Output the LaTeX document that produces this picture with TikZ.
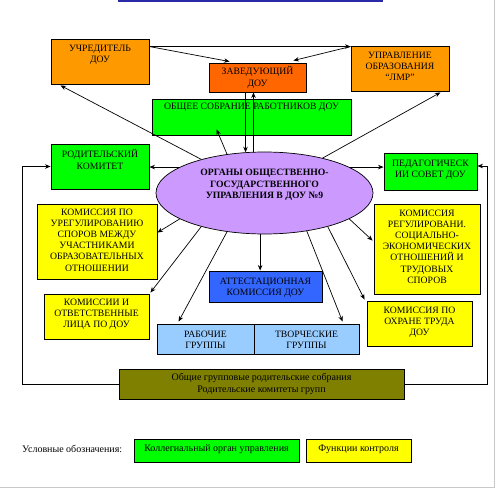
\documentclass[tikz,border=0pt]{standalone}
\usepackage{fontspec}
\setmainfont{Liberation Serif}
\usetikzlibrary{shapes.geometric,arrows.meta,calc}
\definecolor{orng}{HTML}{FF9900}
\definecolor{redorng}{HTML}{FF6600}
\definecolor{grn}{HTML}{00FF00}
\definecolor{ylw}{HTML}{FFFF00}
\definecolor{lav}{HTML}{CC99FF}
\definecolor{attblue}{HTML}{3366FF}
\definecolor{ltblue}{HTML}{99CCFF}
\definecolor{olv}{HTML}{808000}
\definecolor{topblue}{HTML}{2A2AA8}
\definecolor{frame}{HTML}{C8C8C8}
\begin{document}
\begin{tikzpicture}[x=1pt,y=-1pt,
  box/.style={draw=black, line width=0.9pt, inner sep=0pt, minimum width=#1},
  box/.default=100pt,
  txt/.style={anchor=north, align=center, inner sep=0pt, font=\fontsize{9.7}{11.2}\selectfont},
  ctxt/.style={align=center, inner sep=0pt, font=\fontsize{10}{11.2}\selectfont},
  arr/.style={draw=black, line width=0.7pt, -{Stealth[length=5.5pt,width=4.5pt]}}]
\useasboundingbox (0,0) rectangle (495,489);
\fill[white] (0,0) rectangle (495,489);
% top strip and frame
\fill[topblue] (118,-1) rectangle (383,1.6);
\draw[frame, line width=1pt] (494,0) -- (494,487) -- (0,487);

% boxes
\node[box=98pt,  minimum height=45pt, fill=orng]    (uch) at (100,61.5) {};
\node[box=97pt,  minimum height=29pt, fill=redorng] (zav) at (257.5,77.5) {};
\node[box=98pt,  minimum height=45pt, fill=orng]    (upr) at (400,68.5) {};
\node[box=199pt, minimum height=36pt, fill=grn]     (obs) at (251.5,117) {};
\node[box=98pt,  minimum height=45pt, fill=grn]     (rod) at (100,166.5) {};
\node[box=93pt,  minimum height=37pt, fill=grn]     (ped) at (430.5,171.5) {};
\node[box=120pt, minimum height=75pt, fill=ylw]     (kur) at (97,241.5) {};
\node[box=106pt, minimum height=90pt, fill=ylw]     (krg) at (427,249) {};
\node[box=105pt, minimum height=45pt, fill=ylw]     (kio) at (96.5,316.5) {};
\node[box=113pt, minimum height=31pt, fill=attblue] (att) at (265.5,286.5) {};
\node[box=97pt,  minimum height=30pt, fill=ltblue]  (rab) at (205.5,339) {};
\node[box=105pt, minimum height=30pt, fill=ltblue]  (tvo) at (306.5,339) {};
\node[box=105pt, minimum height=45pt, fill=ylw]     (ohr) at (419.5,323.5) {};
\node[box=285pt, minimum height=30pt, fill=olv]     (olvb) at (261.5,384) {};
\node[box=165pt, minimum height=23pt, fill=grn]     (leg1) at (216.5,450.5) {};
\node[box=105pt, minimum height=23pt, fill=ylw]     (leg2) at (358.5,450.5) {};
\node[ellipse, draw=black, line width=0.7pt, fill=lav, inner sep=0pt,
      minimum width=217pt, minimum height=82pt] (e) at (264.5,193) {};

% texts
\node[txt] (tuch) at ($(uch.north)+(0,6)$) {УЧРЕДИТЕЛЬ\\ДОУ};
\node[txt] (tzav) at ($(zav.north)+(0,4)$) {ЗАВЕДУЮЩИЙ\\ДОУ};
\node[txt] (tupr) at ($(upr.north)+(0,6)$) {УПРАВЛЕНИЕ\\ОБРАЗОВАНИЯ\\“ЛМР”};
\node[txt] (tobs) at ($(obs.north)+(0,4)$) {ОБЩЕЕ СОБРАНИЕ РАБОТНИКОВ ДОУ};
\node[txt] (trod) at ($(rod.north)+(0,6)$) {РОДИТЕЛЬСКИЙ\\КОМИТЕТ};
\node[txt] (tped) at ($(ped.north)+(0,7)$) {ПЕДАГОГИЧЕСК\\ИИ СОВЕТ ДОУ};
\node[txt] (tkur) at ($(kur.north)+(0,5)$) {КОМИССИЯ ПО\\УРЕГУЛИРОВАНИЮ\\СПОРОВ МЕЖДУ\\УЧАСТНИКАМИ\\ОБРАЗОВАТЕЛЬНЫХ\\ОТНОШЕНИИ};
\node[txt] (tkrg) at ($(krg.north)+(0,6)$) {КОМИССИЯ\\РЕГУЛИРОВАНИ.\\СОЦИАЛЬНО-\\ЭКОНОМИЧЕСКИХ\\ОТНОШЕНИЙ И\\ТРУДОВЫХ\\СПОРОВ};
\node[txt] (tkio) at ($(kio.north)+(0,5)$) {КОМИССИИ И\\ОТВЕТСТВЕННЫЕ\\ЛИЦА ПО ДОУ};
\node[txt] (tatt) at ($(att.north)+(0,7)$) {АТТЕСТАЦИОННАЯ\\КОМИССИЯ ДОУ};
\node[txt] (trab) at ($(rab.north)+(0,7)$) {РАБОЧИЕ\\ГРУППЫ};
\node[txt] (ttvo) at ($(tvo.north)+(0,7)$) {ТВОРЧЕСКИЕ\\ГРУППЫ};
\node[txt] (tohr) at ($(ohr.north)+(0,6)$) {КОМИССИЯ ПО\\ОХРАНЕ ТРУДА\\ДОУ};
\node[ctxt, font=\bfseries\fontsize{9.7}{11.8}\selectfont] (te) at ($(e.center)+(0,-8)$) {ОРГАНЫ ОБЩЕСТВЕННО-\\ГОСУДАРСТВЕННОГО\\УПРАВЛЕНИЯ В ДОУ №9};
\node[ctxt] (tolv) at (olvb.center) {Общие групповые родительские собрания\\Родительские комитеты групп};
\node[ctxt, anchor=west] (tleg) at (22,449) {Условные обозначения:};
\node[ctxt] (tleg1) at ($(leg1.center)+(0,-1.5)$) {Коллегиальный орган управления};
\node[ctxt] (tleg2) at ($(leg2.center)+(0,-1.5)$) {Функции контроля};

% connectors at top
\coordinate (u1) at ($(uch.north east)+(0,8)$);
\draw[arr] (u1) -- ($(zav.north west)+(21,-1)$);
\draw[arr] (u1) -- (u1 -| upr.west);
\draw[arr] (u1 -| upr.west) -- ($(zav.north east)+(-13,-2)$);
\draw[arr] (e.115 |- zav.south) -- (e.115);
\draw[arr] (e.105) -- (e.105 |- zav.south);

% from ellipse
\draw[arr] (e.134) -- ($(obs.south west)+(65,-6)$);
\draw[arr] (e.152) -- ($(uch.south west)+(10,1)$);
\draw[arr] (e.31) -- ($(upr.south east)+(-9,1)$);
\draw[arr] (e.163) -- (e.163 -| rod.east);
\draw[arr] (e.17) -- (e.17 -| ped.west);
\draw[arr] (e.197) -- ($(kur.north east)+(0,29)$);
\draw[arr] (e.208) -- ($(kio.north east)+(1,-1)$);
\draw[arr] (e.226) -- ($(rab.north west)+(22,-2)$);
\draw[arr] (e.264) -- (e.264 |- att.north);
\draw[arr] (e.318) -- ($(tvo.north west)+(89,-2)$);
\draw[arr] (e.332) -- ($(ohr.north west)+(-2,-1)$);
\draw[arr] (e.343) -- ($(krg.north west)+(-1,37)$);

% feedback loops
\coordinate (lx) at (22,0);
\coordinate (rx) at (487,0);
\coordinate (pedin) at ($(ped.east)+(0,-5.5)$);
\draw[arr] (olvb.west) -- (olvb.west -| lx) |- (rod.west);
\draw[arr] (olvb.east) -- (olvb.east -| rx) |- (pedin);
\end{tikzpicture}
\end{document}
